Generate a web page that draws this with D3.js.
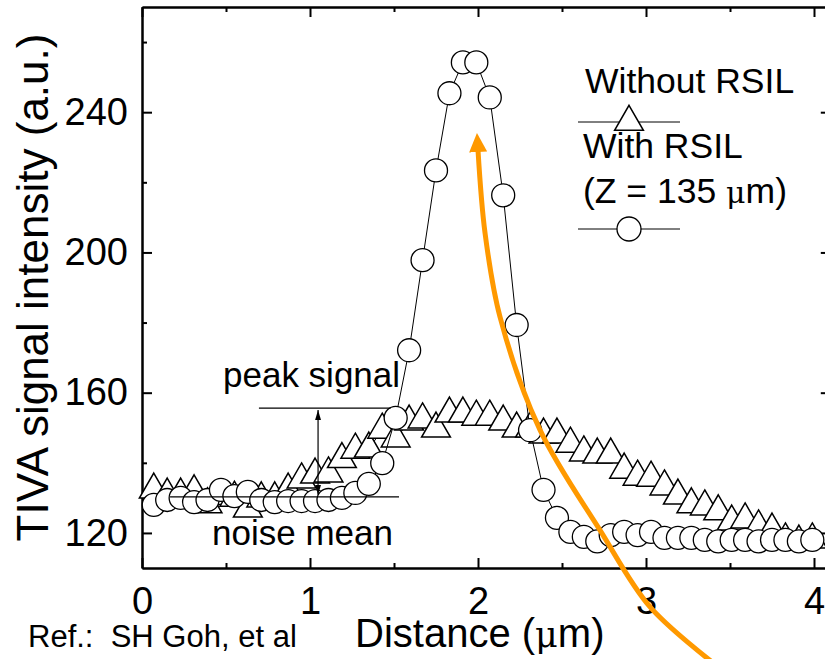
<!DOCTYPE html>
<html>
<head>
<meta charset="UTF-8">
<title>TIVA signal</title>
<script src="https://d3js.org/d3.v7.min.js"></script>
<style>
  body { margin: 0; background: #fff; }
  svg text { font-family: "Liberation Sans", Arial, sans-serif; fill: #000; }
</style>
</head>
<body>
<div id="chart"></div>
<script>
// scan position (um), shared by both series
var distance = [0.07, 0.15, 0.23, 0.31, 0.39, 0.47, 0.55, 0.63, 0.71, 0.79,
                0.87, 0.95, 1.03, 1.11, 1.19, 1.27, 1.35, 1.43, 1.51, 1.59,
                1.67, 1.75, 1.83, 1.91, 1.99, 2.07, 2.15, 2.23, 2.31, 2.39,
                2.47, 2.55, 2.63, 2.71, 2.79, 2.87, 2.95, 3.03, 3.11, 3.19,
                3.27, 3.35, 3.43, 3.51, 3.59, 3.67, 3.75, 3.83, 3.91, 3.99];

// Without RSIL (triangles)
var withoutRSIL = [132.3, 130.9, 130.9, 131.8, 128.1, 130.5, 130.0, 126.9, 129.8, 129.8,
                   132.3, 135.2, 136.6, 136.9, 141.0, 143.7, 144.0, 149.4, 146.9, 151.7,
                   152.3, 149.7, 154.0, 154.0, 153.1, 153.1, 151.7, 149.7, 149.7, 148.0,
                   148.0, 145.4, 142.9, 142.3, 142.3, 138.0, 136.0, 135.7, 133.2, 130.6,
                   128.1, 127.5, 126.1, 123.2, 123.8, 121.8, 120.9, 118.1, 117.5, 118.1];

// With RSIL, Z = 135 um (circles)
var withRSIL = [128.0, 129.4, 130.0, 128.8, 129.4, 132.3, 130.5, 131.7, 129.4, 128.8,
                129.1, 129.1, 129.1, 129.4, 130.0, 131.4, 134.0, 139.9, 152.8, 172.1,
                197.8, 223.4, 245.4, 254.2, 254.2, 244.2, 216.3, 179.3, 149.3, 132.3,
                124.3, 120.3, 118.9, 117.6, 119.4, 120.3, 119.4, 120.3, 118.6, 118.6,
                118.6, 118.0, 117.6, 118.0, 118.0, 117.6, 118.0, 118.0, 117.6, 118.0];

var xTicks = [0, 1, 2, 3, 4];
var xMinor = [0.5, 1.5, 2.5, 3.5];
var yTicks = [120, 160, 200, 240];
var yMinor = [140, 180, 220, 260];

// annotation levels
var noiseMean = 130.3;
var peakSignal = 155.6;
// orange arrow track (distance, intensity)
var arrowTrack = [[3.393, 83.2], [3.024, 98.9], [2.726, 120.8], [2.369, 149.4],
                  [2.131, 181.6], [2.042, 205.5], [2.0, 229.2]];

var W = 825, H = 659;
var svg = d3.select("#chart").append("svg")
    .attr("width", W).attr("height", H)
    .style("background", "#fff");

var x = d3.scaleLinear().domain([0, 4.1]).range([142, 830.8]);
var y = d3.scaleLinear().domain([110, 270]).range([568, 7]);

var top0 = y(270), bot0 = y(110), left0 = x(0), right0 = x(4.1);

// axes, ticks pointing inwards
function styleAxis(g) {
    g.selectAll("path.domain").attr("stroke", "#000").attr("stroke-width", 2);
    g.selectAll(".tick line").attr("stroke", "#000").attr("stroke-width", 2);
    g.selectAll("text").attr("font-size", "38px").attr("fill", "#000")
        .attr("font-family", "Liberation Sans, Arial, sans-serif");
}

svg.append("g").attr("transform", "translate(0," + bot0 + ")")
    .call(d3.axisBottom(x).tickValues(xTicks).tickSize(-10).tickSizeOuter(0).tickPadding(19).tickFormat(d3.format("d")))
    .call(styleAxis);
svg.append("g").attr("transform", "translate(0," + bot0 + ")")
    .call(d3.axisBottom(x).tickValues(xMinor).tickSize(-5).tickSizeOuter(0).tickFormat(""))
    .call(styleAxis);
svg.append("g").attr("transform", "translate(0," + top0 + ")")
    .call(d3.axisTop(x).tickValues(xTicks).tickSize(-10).tickSizeOuter(0).tickFormat(""))
    .call(styleAxis);
svg.append("g").attr("transform", "translate(0," + top0 + ")")
    .call(d3.axisTop(x).tickValues(xMinor).tickSize(-5).tickSizeOuter(0).tickFormat(""))
    .call(styleAxis);
svg.append("g").attr("transform", "translate(" + left0 + ",0)")
    .call(d3.axisLeft(y).tickValues(yTicks).tickSize(-10).tickSizeOuter(0).tickPadding(14))
    .call(styleAxis);
svg.append("g").attr("transform", "translate(" + left0 + ",0)")
    .call(d3.axisLeft(y).tickValues(yMinor).tickSize(-5).tickSizeOuter(0).tickFormat(""))
    .call(styleAxis);
svg.append("g").attr("transform", "translate(" + right0 + ",0)")
    .call(d3.axisRight(y).tickValues(yTicks).tickSize(-10).tickSizeOuter(0).tickFormat(""))
    .call(styleAxis);

// axis titles
svg.append("text")
    .attr("transform", "translate(48," + ((top0 + bot0) / 2) + ") rotate(-90)")
    .attr("text-anchor", "middle")
    .attr("font-size", "44px")
    .text("TIVA signal intensity (a.u.)");

var xt = svg.append("text")
    .attr("x", 355).attr("y", 647)
    .attr("font-size", "40px")
    .text("Distance (");
xt.append("tspan").attr("font-family", "DejaVu Serif, serif").attr("font-size", "35px").text("\u03bc");
xt.append("tspan").text("m)");

svg.append("text")
    .attr("x", 28).attr("y", 647)
    .attr("font-size", "31px")
    .attr("xml:space", "preserve")
    .text("Ref.:  SH Goh, et al");

// series
var line = d3.line()
    .x(function(d) { return x(d[0]); })
    .y(function(d) { return y(d[1]); });

var triPts = distance.map(function(d, i) { return [d, withoutRSIL[i]]; });
var cirPts = distance.map(function(d, i) { return [d, withRSIL[i]]; });

// triangle with centroid at origin, 25px tall
var triPath = "M0,-16.7L14.4,8.3L-14.4,8.3Z";

svg.append("path").datum(triPts)
    .attr("d", line).attr("fill", "none").attr("stroke", "#000").attr("stroke-width", 1);
svg.append("g").selectAll("path")
    .data(triPts).enter().append("path")
    .attr("d", triPath)
    .attr("transform", function(d) { return "translate(" + x(d[0]) + "," + y(d[1]) + ")"; })
    .attr("fill", "#fff").attr("stroke", "#000").attr("stroke-width", 1.5);

svg.append("path").datum(cirPts)
    .attr("d", line).attr("fill", "none").attr("stroke", "#000").attr("stroke-width", 1);
svg.append("g").selectAll("circle")
    .data(cirPts).enter().append("circle")
    .attr("cx", function(d) { return x(d[0]); })
    .attr("cy", function(d) { return y(d[1]); })
    .attr("r", 11.5)
    .attr("fill", "#fff").attr("stroke", "#000").attr("stroke-width", 1.3);

// peak / noise annotation
svg.append("line")
    .attr("x1", x(0.167)).attr("x2", x(1.53))
    .attr("y1", y(noiseMean)).attr("y2", y(noiseMean))
    .attr("stroke", "#000").attr("stroke-width", 1.2);
svg.append("line")
    .attr("x1", x(0.696)).attr("x2", x(1.48))
    .attr("y1", y(peakSignal)).attr("y2", y(peakSignal))
    .attr("stroke", "#000").attr("stroke-width", 1.2);

var defs = svg.append("defs");
defs.append("marker").attr("id", "blackHead")
    .attr("viewBox", "0 0 10 6").attr("refX", 10).attr("refY", 3)
    .attr("markerUnits", "userSpaceOnUse")
    .attr("markerWidth", 10).attr("markerHeight", 6)
    .attr("orient", "auto-start-reverse")
    .append("path").attr("d", "M0,0L10,3L0,6Z").attr("fill", "#000");
defs.append("marker").attr("id", "orangeHead")
    .attr("viewBox", "0 0 19 18").attr("refX", 2).attr("refY", 9)
    .attr("markerUnits", "userSpaceOnUse")
    .attr("markerWidth", 19).attr("markerHeight", 18)
    .attr("orient", "auto")
    .append("path").attr("d", "M0,0L19,9L0,18Z").attr("fill", "#FF9900");

var ax = x(1.048);
svg.append("line")
    .attr("x1", ax).attr("x2", ax)
    .attr("y1", y(peakSignal) + 2).attr("y2", y(noiseMean) - 2)
    .attr("stroke", "#000").attr("stroke-width", 1.2)
    .attr("marker-start", "url(#blackHead)")
    .attr("marker-end", "url(#blackHead)");

svg.append("text").attr("x", 223).attr("y", 387).attr("font-size", "35px").text("peak signal");
svg.append("text").attr("x", 212).attr("y", 545).attr("font-size", "35px").text("noise mean");

// legend
var lg = svg.append("g");
lg.append("text").attr("x", 585).attr("y", 93).attr("font-size", "35.5px").text("Without RSIL");
lg.append("line").attr("x1", 578).attr("x2", 680).attr("y1", 122).attr("y2", 122)
    .attr("stroke", "#000").attr("stroke-width", 1);
lg.append("path").attr("d", triPath).attr("transform", "translate(629,122)")
    .attr("fill", "#fff").attr("stroke", "#000").attr("stroke-width", 1.5);
lg.append("text").attr("x", 583).attr("y", 158).attr("font-size", "35.5px").text("With RSIL");
var zt = lg.append("text").attr("x", 583).attr("y", 203).attr("font-size", "35.5px").text("(Z = 135 ");
zt.append("tspan").attr("font-family", "DejaVu Serif, serif").attr("font-size", "30px").text("\u03bc");
zt.append("tspan").text("m)");
lg.append("line").attr("x1", 578).attr("x2", 680).attr("y1", 229).attr("y2", 229)
    .attr("stroke", "#000").attr("stroke-width", 1);
lg.append("circle").attr("cx", 629).attr("cy", 229).attr("r", 12)
    .attr("fill", "#fff").attr("stroke", "#000").attr("stroke-width", 1.3);

// orange arrow on top
svg.append("path").datum(arrowTrack)
    .attr("d", line.curve(d3.curveCatmullRom))
    .attr("fill", "none").attr("stroke", "#FF9900").attr("stroke-width", 5)
    .attr("marker-end", "url(#orangeHead)");
</script>
</body>
</html>
